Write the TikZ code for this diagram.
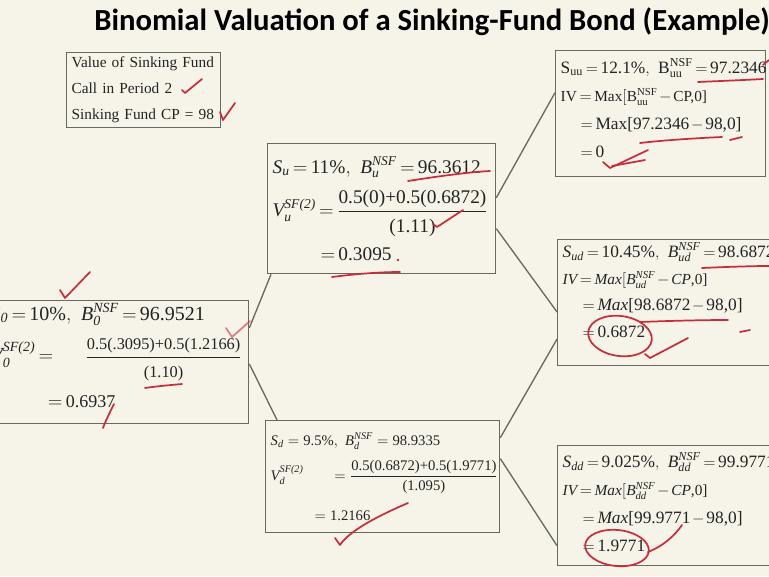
\documentclass[tikz,border=0pt]{standalone}
\usepackage{amsmath}
\usepackage{fontspec}
\setmainfont{Liberation Serif}
\newfontfamily\titlefont{Carlito}
\usepackage{tikz}
\usetikzlibrary{positioning,calc}

\definecolor{paper}{RGB}{246,244,233}
\definecolor{boxline}{RGB}{105,105,100}
\definecolor{ink}{RGB}{35,35,35}
\definecolor{penred}{RGB}{200,45,60}

\newcommand{\ti}[1]{\text{\itshape #1}}
\newcommand{\tu}[1]{\text{\upshape #1}}
\newcommand{\tightmath}{\thickmuskip=3mu\medmuskip=2mu}

\begin{document}
\begin{tikzpicture}[x=0.75pt, y=-0.75pt,
  valbox/.style={draw=boxline, line width=1pt, anchor=north west, align=left,
    inner xsep=3.75pt, inner ysep=2pt, text=ink},
  link/.style={draw=boxline, line width=1pt},
  redmark/.style={draw=penred, line width=1.3pt, line cap=round, line join=round}
]
\useasboundingbox (0,0) rectangle (769,576);
\clip (0,0) rectangle (769,576);
\fill[paper] (0,0) rectangle (769,576);

\node[font=\titlefont\bfseries\fontsize{23}{27}\selectfont, text=black] (title) at (432,22)
  {Binomial Valuation of a Sinking-Fund Bond (Example)};

% sinking fund data
\node[valbox, font=\fontsize{11.5}{19.5}\selectfont, text width=108pt, minimum height=56.25pt] (sfinfo) at (66,52)
  {\mbox{Value of Sinking Fund}\\ \mbox{Call in Period 2}\\ \mbox{Sinking Fund CP = 98}};

% period 0
\node[valbox, font=\fontsize{15}{18}\selectfont\tightmath, text width=189.75pt] (root) at (-15,300)
  {\mbox{$\ti{S}_{\ti{0}} = \text{10\%},\ \ti{B}_{\ti{0}}^{\ti{NSF}} = \text{96.9521}$}\\[9pt]
   \mbox{$\ti{V}_{\ti{0}}^{\ti{SF(2)}} =$\hspace{24pt}{\fontsize{12.25}{15}\selectfont$\dfrac{\text{0.5(.3095)+0.5(1.2166)}\rule[-4pt]{0pt}{0pt}}{\rule{0pt}{13pt}\text{(1.10)}}$}}\\[10pt]
   \hspace{43pt}{\fontsize{13.5}{15}\selectfont$= \text{0.6937}$}\rule[-10pt]{0pt}{0pt}};

% period 1
\node[valbox, font=\fontsize{14.5}{18}\selectfont\tightmath, text width=163.5pt, minimum height=97.5pt] (u) at (267,143)
  {\mbox{$\ti{S}_{\ti{u}} = \text{11\%},\ \ti{B}_{\ti{u}}^{\ti{NSF}} = \text{96.3612}$}\\[8pt]
   \mbox{$\ti{V}_{\ti{u}}^{\ti{SF(2)}} = \dfrac{\text{0.5(0)+0.5(0.6872)}}{\rule{0pt}{14pt}\text{(1.11)}}$}\\[7pt]
   \hspace{36pt}$= \text{0.3095}$};

\node[valbox, font=\fontsize{11}{15}\selectfont, text width=168pt, minimum height=84pt] (d) at (265,420)
  {\mbox{$\ti{S}_{\ti{d}} = \text{9.5\%},\ \ti{B}_{\ti{d}}^{\ti{NSF}} = \text{98.9335}$}\\[7pt]
   \mbox{$\ti{V}_{\ti{d}}^{\ti{SF(2)}}$\hspace{23pt}$= \dfrac{\text{0.5(0.6872)+0.5(1.9771)}}{\text{(1.095)}}$}\\[12pt]
   \hspace{33pt}$= \text{1.2166}$};

% period 2
\node[valbox, font=\fontsize{13}{21}\selectfont\tightmath, text width=150pt, minimum height=94.5pt] (uu) at (555,50)
  {\mbox{$\tu{S}_{\tu{uu}} = \text{12.1\%},\ \tu{B}_{\tu{uu}}^{\tu{NSF}} = \text{97.2346}$}\\
   \mbox{\fontsize{11.5}{21}\selectfont$\tu{IV} = \tu{Max}[\tu{B}_{\tu{uu}}^{\tu{NSF}} - \text{CP,0]}$}\\
   \hspace{15pt}\mbox{$= \text{Max[97.2346} - \text{98,0]}$}\\
   \hspace{15pt}$= \text{0}$\rule[-9pt]{0pt}{0pt}};

\node[valbox, font=\fontsize{13}{20}\selectfont\tightmath, text width=157.5pt] (ud) at (557,239)
  {\mbox{$\ti{S}_{\ti{ud}} = \text{10.45\%},\ \ti{B}_{\ti{ud}}^{\ti{NSF}} = \text{98.6872}$}\\
   \mbox{\fontsize{11.5}{20}\selectfont$\ti{IV} = \ti{Max}[\ti{B}_{\ti{ud}}^{\ti{NSF}} - \ti{CP}\text{,0]}$}\\
   \hspace{15pt}\mbox{$= \ti{Max}\text{[98.6872} - \text{98,0]}$}\\
   \hspace{15pt}$= \text{0.6872}$\rule[-19pt]{0pt}{0pt}};

\node[valbox, font=\fontsize{13}{21}\selectfont\tightmath, text width=157.5pt, minimum height=90pt] (dd) at (557,445)
  {\mbox{$\ti{S}_{\ti{dd}} = \text{9.025\%},\ \ti{B}_{\ti{dd}}^{\ti{NSF}} = \text{99.9771}$}\\
   \mbox{\fontsize{11.5}{21}\selectfont$\ti{IV} = \ti{Max}[\ti{B}_{\ti{dd}}^{\ti{NSF}} - \ti{CP}\text{,0]}$}\\
   \hspace{15pt}\mbox{$= \ti{Max}\text{[99.9771} - \text{98,0]}$}\\
   \hspace{15pt}$= \text{1.9771}$\rule[-6pt]{0pt}{0pt}};

% tree branches
\draw[link] ([yshift=25.5pt]root.east) -- ([xshift=3pt]u.south west);
\draw[link] ([yshift=-1.5pt]root.east) -- ([xshift=9pt]d.north west);
\draw[link] ([yshift=8.25pt]u.east) -- ([yshift=15.75pt]uu.west);
\draw[link] ([yshift=-15pt]u.east) -- ([yshift=-7pt]ud.west);
\draw[link] ([yshift=29.25pt]d.east) -- ([yshift=-27.4pt]ud.west);
\draw[link] ([yshift=13.5pt]d.east) -- ([yshift=-30pt]dd.west);

% pen marks
\draw[redmark] (182,90) -- (185,93) -- (202,79);
\draw[redmark] (220,112) -- (223,120) -- (235,103);
\draw[redmark] (60,290) -- (65,298) -- (90,272);
\draw[redmark, draw opacity=0.6] (226,328) -- (232,337) -- (250,321);
\draw[redmark] (145,388) .. controls (158,386) and (172,385) .. (182,384);
\draw[redmark] (114,404) .. controls (110,412) and (106,420) .. (103,428);
\draw[redmark] (408,181) .. controls (440,176) and (470,172) .. (490,171);
\draw[redmark] (433,224) -- (437,227) -- (463,210);
\draw[redmark] (332,277) .. controls (355,274) and (380,272) .. (400,272);
\fill[penred] (398,260) circle (1.3);
\draw[redmark] (335,538) -- (340,545) .. controls (350,530) and (380,515) .. (408,503);
\draw[redmark] (698,82) .. controls (720,81) and (745,80) .. (763,79);
\draw[redmark] (763,65) -- (769,60);
\draw[redmark] (640,143) .. controls (665,140) and (700,138) .. (722,137);
\draw[redmark] (730,140) -- (742,137);
\draw[redmark] (603,162) -- (610,168) -- (648,150);
\draw[redmark] (612,166) -- (645,160);
\draw[redmark] (702,268) .. controls (725,267) and (750,266) .. (769,266);
\draw[redmark] (640,322) .. controls (665,321) and (700,320) .. (728,320);
\draw[redmark] (740,332) -- (750,330);
\draw[redmark, rotate around={-8:(620,336)}] (620,336) ellipse [x radius=32, y radius=20];
\draw[redmark] (645,354) -- (650,358) -- (688,338);
\draw[redmark, rotate around={-6:(617,548)}] (617,548) ellipse [x radius=32, y radius=18];
\draw[redmark] (648,552) .. controls (665,545) and (675,535) .. (682,525);
\end{tikzpicture}
\end{document}
